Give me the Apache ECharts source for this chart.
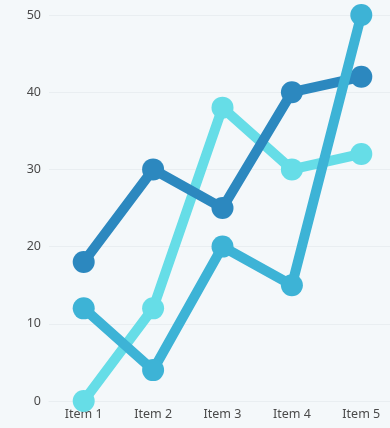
<!DOCTYPE html>
<html>
<head>
<meta charset="utf-8">
<script src="https://cdn.jsdelivr.net/npm/echarts@6/dist/echarts.min.js"></script>
<style>
  html, body { margin: 0; padding: 0; background: #f4f8fa; overflow: hidden; }
  #chart { width: 396px; height: 428px; }
</style>
</head>
<body>
<div id="chart"></div>
<script>
// Categories and series values
const categories = ['Item 1', 'Item 2', 'Item 3', 'Item 4', 'Item 5'];
const seriesA = [18, 30, 25, 40, 42];   // dark blue
const seriesB = [0, 12, 38, 30, 32];    // light cyan
const seriesC = [12, 4, 20, 15, 50];    // medium blue
const yTicks = { min: 0, max: 50, interval: 10 };

const lineSeries = (name, data, color, z) => ({
  name,
  type: 'line',
  data,
  z,
  symbol: 'circle',
  symbolSize: 22,
  lineStyle: { width: 10, color, cap: 'round', join: 'round' },
  itemStyle: { color },
  emphasis: { disabled: true }
});

const chart = echarts.init(document.getElementById('chart'));
chart.setOption({
  backgroundColor: '#f4f8fa',
  animation: false,
  // the last band runs slightly past the visible edge
  grid: { left: 49, right: 0, top: 15, bottom: 27, containLabel: false },
  xAxis: {
    type: 'category',
    data: categories,
    boundaryGap: true,
    axisLine: { show: true, lineStyle: { color: '#e9eef1' } },
    axisTick: { show: false },
    axisLabel: { color: '#4a4a4a', fontSize: 12.5, margin: 7, fontFamily: 'Noto Sans' }
  },
  yAxis: {
    type: 'value',
    min: yTicks.min,
    max: yTicks.max,
    interval: yTicks.interval,
    axisLine: { show: false },
    axisTick: { show: false },
    splitLine: { lineStyle: { color: '#e9eef1', width: 1 } },
    axisLabel: { color: '#4a4a4a', fontSize: 12.5, margin: 8, fontFamily: 'Noto Sans' }
  },
  series: [
    lineSeries('B', seriesB, '#66dde7', 2),
    lineSeries('A', seriesA, '#2c88bf', 3),
    lineSeries('C', seriesC, '#3db3d6', 4)
  ]
});
</script>
</body>
</html>
